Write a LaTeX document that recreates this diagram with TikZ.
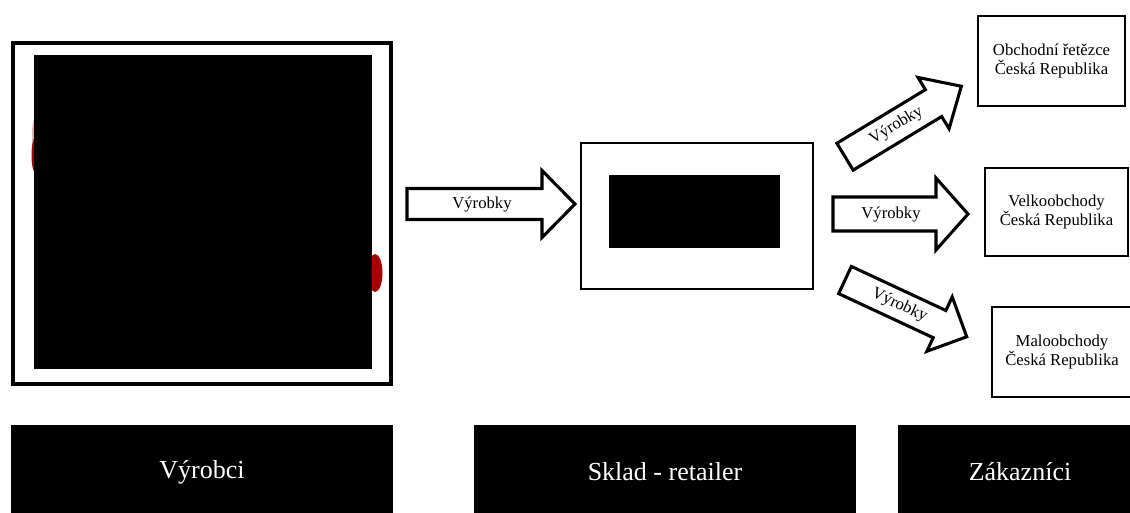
\documentclass[tikz,border=0pt]{standalone}
\usepackage{fontspec}
\setmainfont{Liberation Serif}
\begin{document}
\begin{tikzpicture}[x=0.75pt,y=-0.75pt,
  frame/.style={draw=black, line width=2.6pt, fill=white, inner sep=0pt},
  blk/.style={fill=black, draw=none, inner sep=0pt},
  arr/.style={draw=black, line width=2.3pt, fill=white, line join=miter},
  lbl/.style={font=\fontsize{12.5}{14}\selectfont, inner sep=0pt},
  box/.style={draw=black, line width=2.2pt, fill=white, align=center, inner sep=0pt,
              font=\fontsize{12.5}{14.25}\selectfont},
  bigbox/.style={fill=black, draw=none, text=white, inner sep=0pt,
              font=\fontsize{19.5}{22}\selectfont}
]
\useasboundingbox (0,0) rectangle (1130,512);
\clip (0,0) rectangle (1130,512);
\fill[white] (0,0) rectangle (1130,512);

% producers picture
\node[frame, minimum width=283.5pt, minimum height=255.75pt] (frameL) at (202,213.5) {};
\fill[red!60!black!60, opacity=0.5] (35,135) ellipse [x radius=3, y radius=16];
\fill[red!65!black] (35,155) ellipse [x radius=3.5, y radius=17];
\fill[red!65!black] (375,273) ellipse [x radius=7.5, y radius=19];
\node[blk, minimum width=253.5pt, minimum height=235.5pt] (picL) at (203,212) {};

% warehouse picture
\node[frame, line width=2.2pt, minimum width=174pt, minimum height=109.5pt] (frameM) at (697,216) {};
\node[blk, minimum width=128.25pt, minimum height=54.75pt] (picM) at (694.5,211.5) {};

% customer boxes
\node[box, minimum width=110.25pt, minimum height=67.5pt] (r1) at (1051.5,61)
  {Obchodní řetězce\\Česká Republika};
\node[box, minimum width=107.25pt, minimum height=66pt] (r2) at (1056.5,212)
  {Velkoobchody\\Česká Republika};
\node[box, minimum width=105pt, minimum height=67.5pt] (r3) at (1062,352)
  {Maloobchody\\Česká Republika};

% block arrows
\begin{scope}[shift={(407,204)}]
  \draw[arr] (0,-15.5) -- (135,-15.5) -- (135,-33.5) -- (168,0) -- (135,33.5) -- (135,15.5) -- (0,15.5) -- cycle;
  \node[lbl] (a1) at (75,0) {Výrobky};
\end{scope}
\begin{scope}[shift={(833,214)}]
  \draw[arr] (0,-17) -- (103,-17) -- (103,-36) -- (135,0) -- (103,36) -- (103,17) -- (0,17) -- cycle;
  \node[lbl] (a2) at (58,0) {Výrobky};
\end{scope}
\begin{scope}[shift={(845,156.7)}, rotate=31.2]
  \draw[arr] (0,-15.7) -- (103.5,-15.7) -- (103.5,-30) -- (136,0) -- (103.5,30) -- (103.5,15.7) -- (0,15.7) -- cycle;
  \node[lbl, rotate=31.2] (a3) at (60,0) {Výrobky};
\end{scope}
\begin{scope}[shift={(845,280)}, rotate=-25]
  \draw[arr] (0,-15) -- (104.3,-15) -- (104.3,-30) -- (134.3,0) -- (104.3,30) -- (104.3,15) -- (0,15) -- cycle;
  \node[lbl, rotate=-25] (a4) at (60,0) {Výrobky};
\end{scope}

% bottom labels
\node[bigbox, minimum width=286.5pt, minimum height=70.5pt] (b1) at (202,472) {Výrobci};
\node[bigbox, minimum width=286.5pt, minimum height=70.5pt] (b2) at (665,472) {Sklad - retailer};
\node[bigbox, minimum width=183pt, minimum height=70.5pt] (b3) at (1020,472) {Zákazníci};
\end{tikzpicture}
\end{document}
